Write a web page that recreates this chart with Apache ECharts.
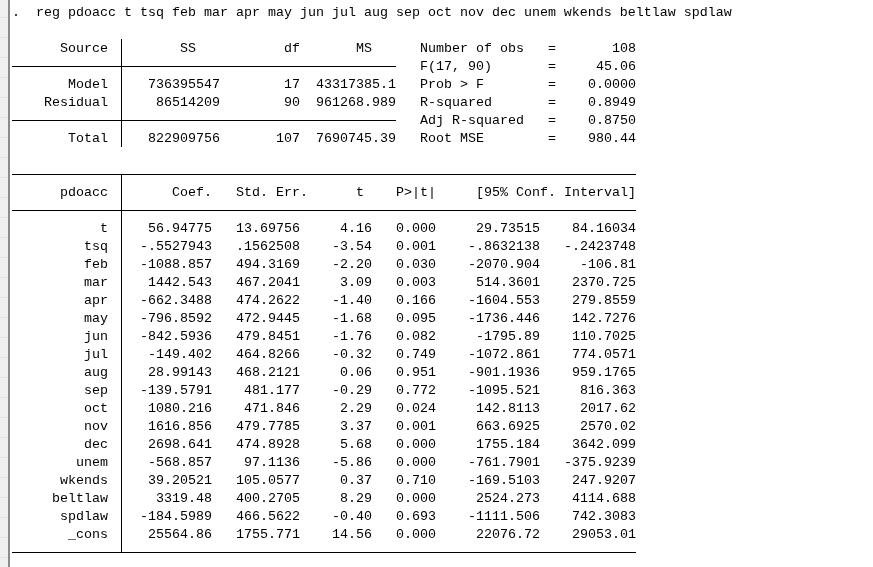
<!DOCTYPE html>
<html>
<head>
<meta charset="utf-8">
<title>reg pdoacc</title>
<script src="https://cdn.jsdelivr.net/npm/echarts@6/dist/echarts.min.js"></script>
<style>
  html, body { margin: 0; padding: 0; background: #fff; }
  #chart { width: 873px; height: 567px; }
</style>
</head>
<body>
<div id="chart"></div>
<script>
// command line
var command = '.  reg pdoacc t tsq feb mar apr may jun jul aug sep oct nov dec unem wkends beltlaw spdlaw';

// ANOVA table
var anovaSources = ['Model', 'Residual', 'Total'];
var anovaRows = [4, 5, 7];
var anovaSS = [736395547, 86514209, 822909756];
var anovaDf = [17, 90, 107];
var anovaMS = [43317385.1, 961268.989, 7690745.39];

// model statistics
var statLabels = ['Number of obs', 'F(17, 90)', 'Prob > F', 'R-squared', 'Adj R-squared', 'Root MSE'];
var statValues = [108, 45.06, 0, 0.8949, 0.875, 980.44];
var statDigits = [0, 2, 4, 4, 4, 2];

// coefficient table
var depVar = 'pdoacc';
var coefHeaders = ['Coef.', 'Std. Err.', 't', 'P>|t|', '[95% Conf. Interval]'];
var varNames = ['t', 'tsq', 'feb', 'mar', 'apr', 'may', 'jun', 'jul', 'aug', 'sep',
    'oct', 'nov', 'dec', 'unem', 'wkends', 'beltlaw', 'spdlaw', '_cons'];
var coef = [56.94775, -0.5527943, -1088.857, 1442.543, -662.3488, -796.8592, -842.5936,
    -149.402, 28.99143, -139.5791, 1080.216, 1616.856, 2698.641, -568.857, 39.20521,
    3319.48, -184.5989, 25564.86];
var stdErr = [13.69756, 0.1562508, 494.3169, 467.2041, 474.2622, 472.9445, 479.8451,
    464.8266, 468.2121, 481.177, 471.846, 479.7785, 474.8928, 97.1136, 105.0577,
    400.2705, 466.5622, 1755.771];
var tStat = [4.16, -3.54, -2.20, 3.09, -1.40, -1.68, -1.76, -0.32, 0.06, -0.29,
    2.29, 3.37, 5.68, -5.86, 0.37, 8.29, -0.40, 14.56];
var pValue = [0.000, 0.001, 0.030, 0.003, 0.166, 0.095, 0.082, 0.749, 0.951, 0.772,
    0.024, 0.001, 0.000, 0.000, 0.710, 0.000, 0.693, 0.000];
var ciLow = [29.73515, -0.8632138, -2070.904, 514.3601, -1604.553, -1736.446, -1795.89,
    -1072.861, -901.1936, -1095.521, 142.8113, 663.6925, 1755.184, -761.7901, -169.5103,
    2524.273, -1111.506, 22076.72];
var ciHigh = [84.16034, -0.2423748, -106.81, 2370.725, 279.8559, 142.7276, 110.7025,
    774.0571, 959.1765, 816.363, 2017.62, 2570.02, 3642.099, -375.9239, 247.9207,
    4114.688, 742.3083, 29053.01];

// stata-like %9.0g: 7 significant digits, no trailing zeros, no leading zero
function gfmt(v, prec) {
    var s = v.toPrecision(prec || 7);
    if (s.indexOf('.') >= 0) s = s.replace(/0+$/, '').replace(/\.$/, '');
    return s.replace(/^0\./, '.').replace(/^-0\./, '-.');
}

// cells: [column where text ends (or starts), row, index into texts]
var texts = [];
var aligns = [];
var cells = [];
function cell(col, row, text, align) {
    texts.push(text);
    aligns.push(align || 'right');
    cells.push([col, row, texts.length - 1]);
}

cell(0, 0, command, 'left');

// anova
cell(12, 2, 'Source');
cell(23, 2, 'SS');
cell(36, 2, 'df');
cell(45, 2, 'MS');
anovaSources.forEach(function(name, i) {
    var r = anovaRows[i];
    cell(12, r, name);
    cell(26, r, String(anovaSS[i]));
    cell(36, r, String(anovaDf[i]));
    cell(48, r, gfmt(anovaMS[i], 9));
});
statLabels.forEach(function(lab, i) {
    cell(51, 2 + i, lab, 'left');
    cell(67, 2 + i, '=', 'left');
    cell(78, 2 + i, statValues[i].toFixed(statDigits[i]));
});

// coefficients
cell(12, 10, depVar);
[25, 37, 44, 53, 78].forEach(function(c, i) { cell(c, 10, coefHeaders[i]); });
varNames.forEach(function(name, i) {
    var r = 12 + i;
    cell(12, r, name);
    cell(25, r, gfmt(coef[i]));
    cell(36, r, gfmt(stdErr[i]));
    cell(45, r, tStat[i].toFixed(2));
    cell(53, r, pValue[i].toFixed(3));
    cell(66, r, gfmt(ciLow[i]));
    cell(78, r, gfmt(ciHigh[i]));
});

// rules: [col1, row1, col2, row2]
var rules = [
    [0, 3, 48, 3], [0, 6, 48, 6], [13.6, 1.5, 13.6, 7.5],
    [0, 9, 78, 9], [0, 11, 78, 11], [0, 30, 78, 30], [13.6, 9, 13.6, 30]
];

var font = '13.33px "Liberation Mono", "DejaVu Sans Mono", monospace';

var chart = echarts.init(document.getElementById('chart'));
chart.setOption({
    animation: false,
    backgroundColor: '#fff',
    grid: { left: 12, right: 61, top: 3, bottom: 6 },
    xAxis: { type: 'value', min: 0, max: 100, show: false },
    yAxis: { type: 'value', min: -0.5, max: 30.5, inverse: true, show: false },
    graphic: [
        { type: 'rect', shape: { x: 0, y: 0, width: 8, height: 567 }, style: { fill: '#f0f0f0' } },
        { type: 'group', children: [17, 37, 57, 77, 97, 117, 137, 157, 177, 197, 217, 237, 257, 277,
            297, 317, 337, 357, 377, 397, 417, 437, 457, 477, 497, 517, 537, 557].map(function(y) {
            return { type: 'line', shape: { x1: 0, y1: y + 0.5, x2: 7, y2: y + 0.5 }, style: { stroke: '#e2e2e2', lineWidth: 1 } };
        }) },
        { type: 'line', shape: { x1: 9, y1: 0, x2: 9, y2: 567 }, style: { stroke: '#8a8a8a', lineWidth: 2 } }
    ],
    series: [{
        type: 'custom',
        coordinateSystem: 'cartesian2d',
        clip: false,
        silent: true,
        data: rules,
        encode: { x: [0, 2], y: [1, 3] },
        renderItem: function(params, api) {
            var a = api.coord([api.value(0), api.value(1)]);
            var b = api.coord([api.value(2), api.value(3)]);
            var vertical = Math.abs(a[0] - b[0]) < 0.5;
            var x1 = vertical ? Math.round(a[0]) + 0.5 : a[0];
            var x2 = vertical ? Math.round(b[0]) + 0.5 : b[0];
            var y1 = vertical ? a[1] : Math.round(a[1]) + 0.5;
            var y2 = vertical ? b[1] : Math.round(b[1]) + 0.5;
            return {
                type: 'line',
                shape: { x1: x1, y1: y1, x2: x2, y2: y2 },
                style: { stroke: '#000', lineWidth: 1 }
            };
        }
    }, {
        type: 'custom',
        coordinateSystem: 'cartesian2d',
        clip: false,
        silent: true,
        data: cells,
        encode: { x: 0, y: 1 },
        renderItem: function(params, api) {
            var idx = api.value(2);
            var p = api.coord([api.value(0), api.value(1)]);
            return {
                type: 'text',
                x: p[0],
                y: p[1],
                style: {
                    text: texts[idx],
                    align: aligns[idx],
                    verticalAlign: 'middle',
                    font: font,
                    fill: '#000'
                }
            };
        }
    }]
});
</script>
</body>
</html>
